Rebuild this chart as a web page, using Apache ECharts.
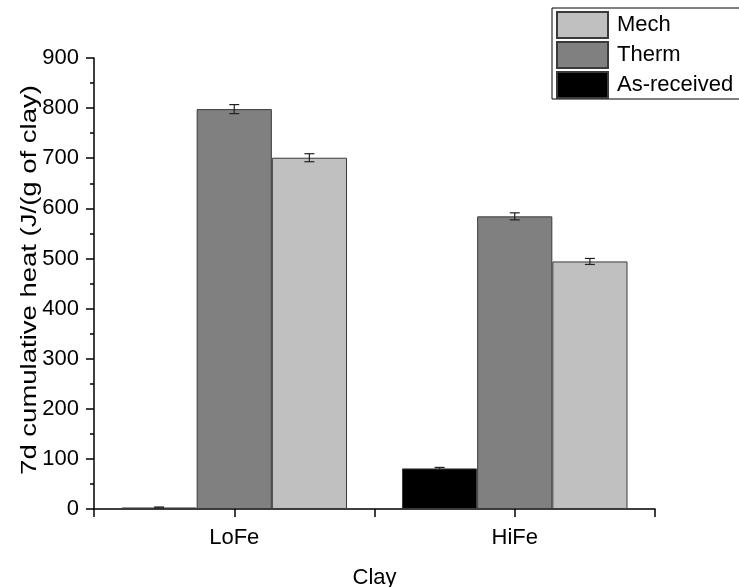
<!DOCTYPE html>
<html>
<head>
<meta charset="utf-8">
<script src="https://cdn.jsdelivr.net/npm/echarts@6/dist/echarts.min.js"></script>
<style>
  html, body { margin: 0; padding: 0; background: #fff; }
  #chart { width: 739px; height: 587px; }
</style>
</head>
<body>
<div id="chart"></div>
<script>
// clay samples
var categories = ["LoFe", "HiFe"];
var seriesNames = ["As-received", "Therm", "Mech"];
var seriesColors = ["#000000", "#808080", "#c0c0c0"];

// 7d cumulative heat, J/(g of clay)
var asReceived = [3, 81];
var therm = [798, 584];
var mech = [701, 494];

// error bar half widths
var asReceivedErr = [1, 2];
var thermErr = [9, 7];
var mechErr = [8, 6];

var yTicks = [0, 100, 200, 300, 400, 500, 600, 700, 800, 900];
var yTitle = "7d cumulative heat (J/(g of clay)";

var values = [asReceived, therm, mech];
var errors = [asReceivedErr, thermErr, mechErr];

var FONT = "Liberation Sans, Arial, sans-serif";
var FS = 22;
var barFrac = 225 / 280;   // group width inside one category

var chart = echarts.init(document.getElementById("chart"));

var series = [];
seriesNames.forEach(function(name, i){
	series.push({
		name: name,
		type: "bar",
		data: values[i],
		barGap: "0%",
		barCategoryGap: "19.6%",
		itemStyle: { color: seriesColors[i], borderColor: "#3a3a3a", borderWidth: 1 },
		emphasis: { disabled: true },
		z: 2
	});
});

// error bars drawn on top of each bar
seriesNames.forEach(function(name, i){
	var d = values[i].map(function(v, k){ return [k, v, errors[i][k]]; });
	series.push({
		type: "custom",
		name: name + "-err",
		data: d,
		z: 5,
		silent: true,
		renderItem: function(params, api){
			var k = api.value(0);
			var band = api.size([1, 0])[0];
			var bw = band * barFrac / 3;
			var off = (i - 1) * bw;
			var top = api.coord([k, api.value(1) + api.value(2)]);
			var bot = api.coord([k, api.value(1) - api.value(2)]);
			var x = top[0] + off;
			var st = { stroke: "#222", lineWidth: 1.2 };
			return {
				type: "group",
				children: [
					{ type: "line", shape: { x1: x, y1: top[1], x2: x, y2: bot[1] }, style: st },
					{ type: "line", shape: { x1: x - 5, y1: top[1], x2: x + 5, y2: top[1] }, style: st },
					{ type: "line", shape: { x1: x - 5, y1: bot[1], x2: x + 5, y2: bot[1] }, style: st }
				]
			};
		}
	});
});

var option = {
	animation: false,
	backgroundColor: "#fff",
	textStyle: { fontFamily: FONT },
	legend: {
		data: ["Mech", "Therm", "As-received"],
		orient: "vertical",
		left: 552,
		top: 8,
		icon: "rect",
		itemWidth: 51,
		itemHeight: 26,
		itemGap: 2,
		padding: [3, 10, 0, 4],
		borderColor: "#000",
		borderWidth: 1,
		borderRadius: 0,
		selectedMode: false,
		textStyle: { fontSize: FS, lineHeight: 26, color: "#000", fontFamily: FONT, padding: [0, 0, 0, 4] }
	},
	// y title drawn as text, stretched along its length like the source
	graphic: [{
		type: "text",
		x: 30,
		y: 280,
		rotation: Math.PI / 2,
		scaleX: 1.25,
		style: {
			text: yTitle,
			font: FS + "px " + FONT,
			fill: "#000",
			align: "center",
			verticalAlign: "middle"
		}
	}],
	grid: { left: 94, right: 84, top: 58, bottom: 78, containLabel: false, outerBoundsMode: "none" },
	xAxis: [{
		type: "category",
		data: categories,
		name: "Clay",
		nameLocation: "middle",
		nameGap: 58,
		nameTextStyle: { fontSize: FS, color: "#000", fontFamily: FONT },
		axisLine: { lineStyle: { color: "#000", width: 1.5 } },
		axisTick: { show: true, inside: false, length: 8, lineStyle: { color: "#000", width: 1.5 } },
		axisLabel: { fontSize: FS, color: "#000", margin: 18, fontFamily: FONT },
		splitLine: { show: false }
	}, {
		type: "category",
		data: categories,
		position: "bottom",
		axisLine: { show: false },
		axisTick: { show: true, alignWithLabel: true, length: 8, lineStyle: { color: "#000", width: 1.5 } },
		axisLabel: { show: false },
		splitLine: { show: false }
	}],
	yAxis: {
		type: "value",
		min: yTicks[0],
		max: yTicks[yTicks.length - 1],
		interval: 100,
		axisLine: { show: true, lineStyle: { color: "#000", width: 1.5 } },
		axisTick: { show: true, length: 8, lineStyle: { color: "#000", width: 1.5 } },
		minorTick: { show: true, splitNumber: 2, length: 4, lineStyle: { color: "#000", width: 1.5 } },
		axisLabel: { fontSize: FS, color: "#000", margin: 15, fontFamily: FONT },
		splitLine: { show: false }
	},
	series: series
};

chart.setOption(option);
</script>
</body>
</html>
